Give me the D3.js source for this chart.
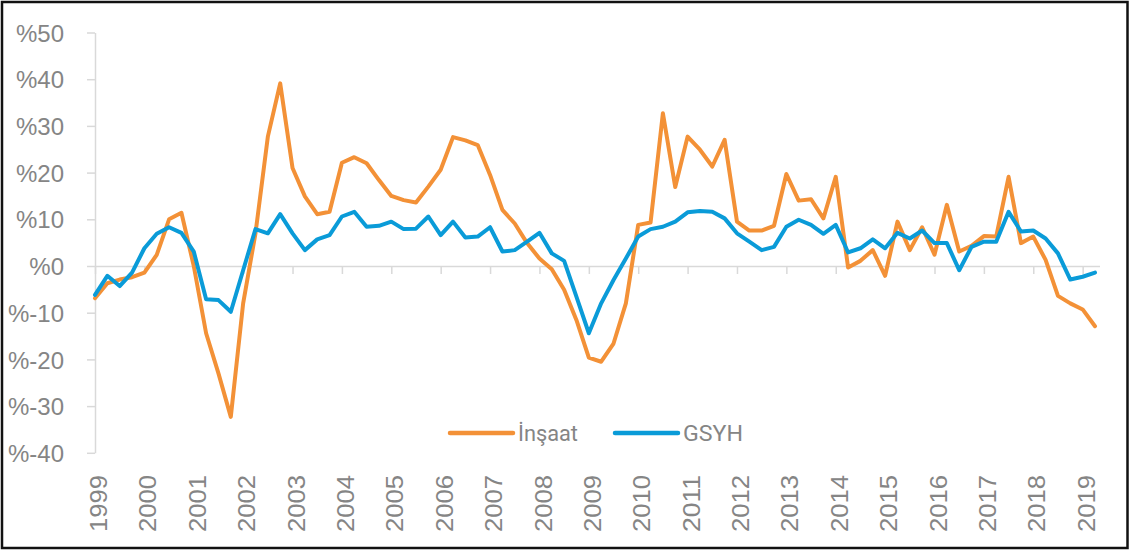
<!DOCTYPE html>
<html>
<head>
<meta charset="utf-8">
<script src="https://cdn.jsdelivr.net/npm/d3@7"></script>
<style>
  html, body { margin: 0; padding: 0; background: #fff; }
  svg { display: block; }
</style>
</head>
<body>
<svg id="chart" width="1130" height="552"></svg>
<script>
// ---- Data (quarterly, 1999Q1 .. 2019Q2) ----
const years = ["1999","2000","2001","2002","2003","2004","2005","2006","2007","2008","2009",
               "2010","2011","2012","2013","2014","2015","2016","2017","2018","2019"];

const insaat = [
  -6.9, -3.7, -2.9, -2.4,   -1.4, 2.4, 10.0, 11.4,    0.0, -14.4, -23.0, -32.3,
  -8.0, 7.0, 27.7, 39.1,    21.0, 14.9, 11.1, 11.6,   22.1, 23.3, 22.0, 18.4,
  15.0, 14.1, 13.6, 17.0,   20.6, 27.6, 26.9, 25.9,   19.5, 12.0, 9.1, 4.9,
  1.6, -0.7, -5.1, -11.6,   -19.6, -20.5, -16.6, -8.0, 8.8, 9.3, 32.7, 16.9,
  27.7, 24.9, 21.3, 27.0,   9.5, 7.6, 7.6, 8.6,       19.7, 14.0, 14.3, 10.2,
  19.1, -0.3, 1.1, 3.4,     -2.1, 9.5, 3.4, 8.3,      2.4, 13.1, 3.1, 4.3,
  6.4, 6.3, 19.1, 4.9,      6.3, 1.3, -6.4, -8.0,     -9.3, -12.9
];

const gsyh = [
  -6.2, -2.1, -4.3, -1.4,   3.8, 6.9, 8.3, 7.1,       3.1, -7.1, -7.3, -9.8,
  -0.9, 7.9, 7.0, 11.1,     7.0, 3.4, 5.7, 6.6,       10.6, 11.6, 8.4, 8.6,
  9.5, 7.9, 8.0, 10.6,      6.6, 9.5, 6.1, 6.3,       8.3, 3.1, 3.4, 5.2,
  7.1, 2.7, 1.1, -6.6,      -14.4, -8.0, -3.0, 1.6,   6.3, 7.9, 8.4, 9.5,
  11.5, 11.8, 11.6, 10.2,   7.0, 5.2, 3.4, 4.1,       8.4, 9.9, 8.8, 6.9,
  8.8, 2.9, 3.8, 5.7,       3.8, 7.1, 5.9, 7.6,       4.9, 4.9, -0.9, 4.1,
  5.2, 5.2, 11.6, 7.4,      7.6, 5.9, 2.7, -2.9,      -2.3, -1.4
];

const yTicks = [-40, -30, -20, -10, 0, 10, 20, 30, 40, 50];
const seriesNames = ["İnşaat", "GSYH"];
const seriesColors = ["#F39137", "#0A9BD8"];

// ---- Layout ----
const svg = d3.select("#chart");
const W = 1130, H = 552;

svg.append("rect")
  .attr("x", 2).attr("y", 2).attr("width", W - 4.5).attr("height", H - 6)
  .attr("fill", "#fff").attr("stroke", "#111").attr("stroke-width", 2.5);

const x = d3.scaleLinear().domain([0, insaat.length - 1]).range([95, 1095]);
const y = d3.scaleLinear().domain([-40, 50]).range([452.8, 32.5]);

const yearIdx = years.map((d, i) => i * 4);
const textCol = "#858585";
const axisCol = "#d9d9d9";

// Y axis
const yAxis = svg.append("g")
  .attr("transform", "translate(95,0)")
  .call(d3.axisLeft(y).tickValues(yTicks).tickSize(8).tickSizeOuter(0).tickPadding(23)
        .tickFormat(d => "%" + d));
yAxis.select(".domain").attr("stroke", axisCol).attr("stroke-width", 1.5);
yAxis.selectAll(".tick line").attr("stroke", axisCol).attr("stroke-width", 1.5);
yAxis.selectAll(".tick text")
  .attr("fill", textCol)
  .attr("font-family", "Liberation Sans, Arial, sans-serif")
  .attr("font-size", 24)
  .attr("dy", "0.36em");

// X axis line at zero
const xAxis = svg.append("g")
  .attr("transform", `translate(0,${y(0)})`)
  .call(d3.axisBottom(x).tickValues(yearIdx).tickSize(8).tickSizeOuter(0).tickFormat(""));
xAxis.select(".domain").attr("stroke", axisCol).attr("stroke-width", 1.5)
  .attr("d", `M95,0.5H1100`);
xAxis.selectAll(".tick line").attr("stroke", axisCol).attr("stroke-width", 1.5);

// X labels at bottom (rotated)
const xLab = svg.append("g")
  .attr("transform", "translate(0,475)")
  .call(d3.axisBottom(x).tickValues(yearIdx).tickSize(0).tickFormat((d, i) => years[i]));
xLab.select(".domain").remove();
xLab.selectAll(".tick text")
  .attr("x", 0).attr("y", 0).attr("dy", "0.35em")
  .attr("transform", "translate(3.5,0) rotate(-90)")
  .attr("text-anchor", "end")
  .attr("fill", textCol)
  .attr("font-family", "Liberation Sans, Arial, sans-serif")
  .attr("font-size", 23)
  .attr("textLength", 57)
  .attr("lengthAdjust", "spacingAndGlyphs");

// Lines
const line = d3.line().x((d, i) => x(i)).y(d => y(d)).curve(d3.curveLinear);
[insaat, gsyh].forEach((s, k) => {
  svg.append("path")
    .datum(s)
    .attr("d", line)
    .attr("fill", "none")
    .attr("stroke", seriesColors[k])
    .attr("stroke-width", 4)
    .attr("stroke-linejoin", "round")
    .attr("stroke-linecap", "round");
});

// Legend
const legendPos = [{lx: 450, tx: 518, tw: 60}, {lx: 615, tx: 683, tw: 60}];
seriesNames.forEach((name, k) => {
  const p = legendPos[k];
  svg.append("line")
    .attr("x1", p.lx).attr("x2", p.lx + 63)
    .attr("y1", 433).attr("y2", 433)
    .attr("stroke", seriesColors[k]).attr("stroke-width", 4.5)
    .attr("stroke-linecap", "round");
  svg.append("text")
    .attr("x", p.tx).attr("y", 441)
    .attr("fill", textCol)
    .attr("font-family", "Roboto, Liberation Sans, sans-serif")
    .attr("font-size", 22)
    .attr("textLength", p.tw)
    .attr("lengthAdjust", "spacingAndGlyphs")
    .text(name);
});
</script>
</body>
</html>
